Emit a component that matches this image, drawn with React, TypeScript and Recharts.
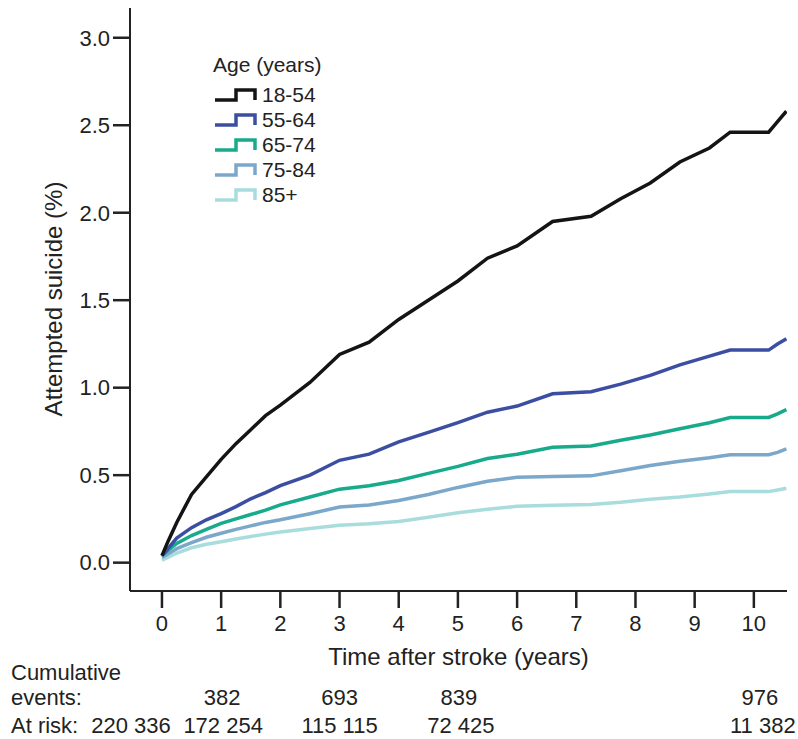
import React from "react";
import { LineChart, Line, XAxis, YAxis } from "recharts";

// follow-up time (years) at which the curves were read
const years = [0, 0.1, 0.25, 0.5, 0.75, 1, 1.25, 1.5, 1.75, 2, 2.5, 3, 3.5, 4, 4.5, 5, 5.5, 6, 6.6, 7.25, 7.75, 8.25, 8.75, 9.25, 9.6, 10.25, 10.4, 10.55];

// cumulative incidence of attempted suicide (%) by age group
const age1854 = [0.04, 0.12, 0.23, 0.39, 0.49, 0.59, 0.68, 0.76, 0.84, 0.9, 1.03, 1.19, 1.26, 1.39, 1.5, 1.61, 1.74, 1.81, 1.95, 1.98, 2.08, 2.17, 2.29, 2.37, 2.46, 2.46, 2.52, 2.58];
const age5564 = [0.04, 0.08, 0.14, 0.2, 0.245, 0.28, 0.32, 0.365, 0.4, 0.44, 0.5, 0.585, 0.62, 0.69, 0.745, 0.8, 0.86, 0.895, 0.965, 0.977, 1.02, 1.07, 1.13, 1.18, 1.215, 1.215, 1.25, 1.28];
const age6574 = [0.04, 0.07, 0.11, 0.155, 0.19, 0.225, 0.25, 0.275, 0.3, 0.33, 0.375, 0.42, 0.44, 0.47, 0.51, 0.55, 0.595, 0.62, 0.66, 0.667, 0.7, 0.73, 0.765, 0.8, 0.83, 0.83, 0.85, 0.875];
const age7584 = [0.03, 0.05, 0.08, 0.115, 0.145, 0.168, 0.19, 0.21, 0.23, 0.245, 0.28, 0.318, 0.33, 0.355, 0.39, 0.43, 0.465, 0.488, 0.493, 0.496, 0.525, 0.555, 0.58, 0.6, 0.617, 0.617, 0.63, 0.65];
const age85 = [0.015, 0.03, 0.055, 0.085, 0.105, 0.12, 0.135, 0.15, 0.163, 0.175, 0.195, 0.214, 0.222, 0.235, 0.26, 0.285, 0.305, 0.322, 0.328, 0.332, 0.345, 0.362, 0.375, 0.393, 0.406, 0.406, 0.415, 0.425];

const groups = ["18-54", "55-64", "65-74", "75-84", "85+"];
const xTicks = [0, 1, 2, 3, 4, 5, 6, 7, 8, 9, 10];
const yTicks = [0, 0.5, 1, 1.5, 2, 2.5, 3];

// numbers under the axis
const eventYears = [1, 3, 5, 10];
const cumulativeEvents = ["382", "693", "839", "976"];
const riskYears = [0, 1, 3, 5, 10];
const atRisk = ["220 336", "172 254", "115 115", "72 425", "11 382"];

const COLORS = ["#141414", "#3b4ea2", "#17aa8b", "#7ba8ca", "#a9dddd"];
const FONT = "'Liberation Sans', Arial, Helvetica, sans-serif";
const TEXT = "#222";

const W = 798;
const H = 739;
// plot box (px)
const PLOT_L = 130;
const PLOT_R = 787;
const PLOT_T = 8;
const PLOT_B = 591;
const X_DOMAIN: [number, number] = [-0.54, 10.56];
const Y_DOMAIN: [number, number] = [-0.162, 3.17];

const xPx = (t: number) =>
  PLOT_L + ((t - X_DOMAIN[0]) / (X_DOMAIN[1] - X_DOMAIN[0])) * (PLOT_R - PLOT_L);

// small nudges of the table numbers relative to their tick
const riskNudge = [-31, 2, 0, 3, 9];
const eventNudge = [1, 0, 1, 6];

const data = years.map((t, i) => ({
  t,
  g0: age1854[i],
  g1: age5564[i],
  g2: age6574[i],
  g3: age7584[i],
  g4: age85[i],
}));

function StepIcon({ color }: { color: string }) {
  return (
    <svg width={44} height={16} style={{ display: "block" }}>
      <path
        d="M2,13 H23 V3 H42 V13"
        fill="none"
        stroke={color}
        strokeWidth={3.5}
        strokeLinejoin="miter"
      />
    </svg>
  );
}

export default function App() {
  return (
    <div
      style={{
        position: "absolute",
        left: 0,
        top: 0,
        width: W,
        height: H,
        background: "#fff",
        fontFamily: FONT,
      }}
    >
      <LineChart
        width={W}
        height={H}
        data={data}
        margin={{ top: PLOT_T, right: W - PLOT_R, bottom: 108, left: 0 }}
      >
        <XAxis
          dataKey="t"
          type="number"
          domain={X_DOMAIN}
          allowDataOverflow
          ticks={xTicks}
          height={H - PLOT_B - 108}
          tickSize={17}
          tickMargin={7}
          axisLine={{ stroke: TEXT, strokeWidth: 2 }}
          tickLine={{ stroke: TEXT, strokeWidth: 2.5 }}
          tick={{ fill: TEXT, fontSize: 22, fontFamily: FONT }}
        />
        <YAxis
          type="number"
          domain={Y_DOMAIN}
          allowDataOverflow
          ticks={yTicks}
          width={PLOT_L}
          tickSize={17}
          tickMargin={3}
          tickFormatter={(v: number) => v.toFixed(1)}
          axisLine={{ stroke: TEXT, strokeWidth: 2 }}
          tickLine={{ stroke: TEXT, strokeWidth: 2.5 }}
          tick={{ fill: TEXT, fontSize: 22, fontFamily: FONT }}
        />
        {[4, 3, 2, 1, 0].map((g) => (
          <Line
            key={g}
            dataKey={`g${g}`}
            name={groups[g]}
            type="linear"
            stroke={COLORS[g]}
            strokeWidth={3.5}
            dot={false}
            activeDot={false}
            isAnimationActive={false}
          />
        ))}
      </LineChart>

      {/* axis titles and the numbers table */}
      <svg
        width={W}
        height={H}
        style={{ position: "absolute", left: 0, top: 0, pointerEvents: "none" }}
        fontFamily={FONT}
        fill={TEXT}
      >
        <text
          x={62}
          y={299}
          fontSize={24}
          textAnchor="middle"
          transform="rotate(-90 62 299)"
        >
          Attempted suicide (%)
        </text>
        <text x={(PLOT_L + PLOT_R) / 2} y={665} fontSize={24} textAnchor="middle">
          Time after stroke (years)
        </text>
        <text x={11} y={680} fontSize={22}>Cumulative</text>
        <text x={11} y={705} fontSize={22}>events:</text>
        <text x={11} y={733} fontSize={22}>At risk:</text>
        {eventYears.map((t, i) => (
          <text key={t} x={xPx(t) + eventNudge[i]} y={705} fontSize={22} textAnchor="middle">
            {cumulativeEvents[i]}
          </text>
        ))}
        {riskYears.map((t, i) => (
          <text key={t} x={xPx(t) + riskNudge[i]} y={733} fontSize={22} textAnchor="middle">
            {atRisk[i]}
          </text>
        ))}
      </svg>

      {/* legend */}
      <div
        style={{
          position: "absolute",
          left: 213,
          top: 52,
          color: TEXT,
          fontSize: 21,
          lineHeight: "25px",
        }}
      >
        <div style={{ height: 30 }}>Age (years)</div>
        {groups.map((g, i) => (
          <div key={g} style={{ display: "flex", alignItems: "center", height: 25 }}>
            <StepIcon color={COLORS[i]} />
            <span style={{ marginLeft: 5 }}>{g}</span>
          </div>
        ))}
      </div>
    </div>
  );
}
